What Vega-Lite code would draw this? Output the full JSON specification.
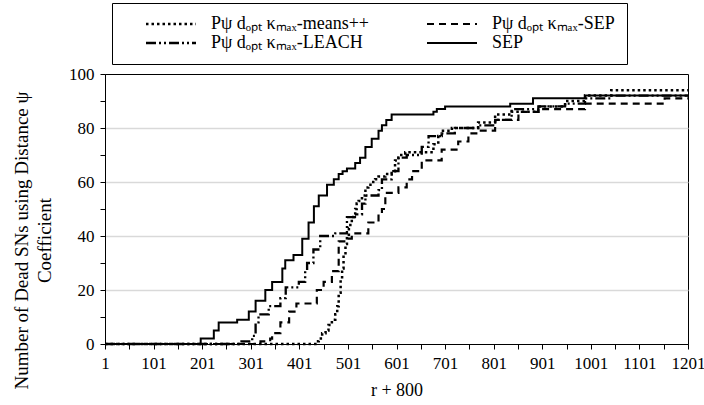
{
  "$schema": "https://vega.github.io/schema/vega-lite/v6.json",
  "width": 583,
  "height": 270,
  "autosize": "none",
  "padding": {"left": 105, "top": 74, "right": 16, "bottom": 61},
  "background": "white",
  "config": {
    "view": {"stroke": "black", "strokeWidth": 1},
    "font": "Liberation Serif"
  },
  "data": {"values": [
    {"s":"A","r":1,"d":0},{"s":"A","r":434,"d":1},{"s":"A","r":441,"d":2},{"s":"A","r":448,"d":4},{"s":"A","r":455,"d":5},{"s":"A","r":461,"d":7},{"s":"A","r":468,"d":9},{"s":"A","r":475,"d":11},{"s":"A","r":479,"d":14},{"s":"A","r":482,"d":19},{"s":"A","r":486,"d":24},{"s":"A","r":489,"d":28},{"s":"A","r":492,"d":33},{"s":"A","r":496,"d":37},{"s":"A","r":499,"d":40},{"s":"A","r":503,"d":43},{"s":"A","r":506,"d":45},{"s":"A","r":509,"d":47},{"s":"A","r":513,"d":48},{"s":"A","r":516,"d":50},{"s":"A","r":519,"d":52},{"s":"A","r":523,"d":53},{"s":"A","r":527,"d":54},{"s":"A","r":530,"d":55},{"s":"A","r":537,"d":58},{"s":"A","r":543,"d":59},{"s":"A","r":550,"d":60},{"s":"A","r":557,"d":61},{"s":"A","r":564,"d":62},{"s":"A","r":578,"d":63},{"s":"A","r":591,"d":64},{"s":"A","r":598,"d":68},{"s":"A","r":605,"d":70},{"s":"A","r":619,"d":71},{"s":"A","r":677,"d":74},{"s":"A","r":687,"d":77},{"s":"A","r":694,"d":79},{"s":"A","r":715,"d":80},{"s":"A","r":769,"d":82},{"s":"A","r":804,"d":85},{"s":"A","r":838,"d":86},{"s":"A","r":893,"d":88},{"s":"A","r":948,"d":90},{"s":"A","r":989,"d":92},{"s":"A","r":1043,"d":94},{"s":"A","r":1201,"d":94},
    {"s":"B","r":1,"d":0},{"s":"B","r":321,"d":1},{"s":"B","r":341,"d":2},{"s":"B","r":345,"d":4},{"s":"B","r":362,"d":8},{"s":"B","r":380,"d":12},{"s":"B","r":395,"d":15},{"s":"B","r":437,"d":20},{"s":"B","r":451,"d":23},{"s":"B","r":468,"d":27},{"s":"B","r":482,"d":38},{"s":"B","r":496,"d":39},{"s":"B","r":509,"d":41},{"s":"B","r":543,"d":45},{"s":"B","r":564,"d":48},{"s":"B","r":571,"d":50},{"s":"B","r":578,"d":56},{"s":"B","r":605,"d":58},{"s":"B","r":622,"d":61},{"s":"B","r":633,"d":64},{"s":"B","r":653,"d":68},{"s":"B","r":694,"d":72},{"s":"B","r":728,"d":75},{"s":"B","r":749,"d":78},{"s":"B","r":770,"d":79},{"s":"B","r":804,"d":83},{"s":"B","r":852,"d":86},{"s":"B","r":893,"d":87},{"s":"B","r":989,"d":89},{"s":"B","r":1153,"d":91},{"s":"B","r":1201,"d":91},
    {"s":"C","r":1,"d":0},{"s":"C","r":282,"d":1},{"s":"C","r":304,"d":3},{"s":"C","r":311,"d":8},{"s":"C","r":317,"d":11},{"s":"C","r":338,"d":14},{"s":"C","r":362,"d":17},{"s":"C","r":373,"d":21},{"s":"C","r":400,"d":23},{"s":"C","r":413,"d":27},{"s":"C","r":417,"d":30},{"s":"C","r":430,"d":35},{"s":"C","r":444,"d":40},{"s":"C","r":475,"d":41},{"s":"C","r":499,"d":47},{"s":"C","r":520,"d":48},{"s":"C","r":530,"d":52},{"s":"C","r":537,"d":55},{"s":"C","r":564,"d":57},{"s":"C","r":571,"d":61},{"s":"C","r":591,"d":64},{"s":"C","r":605,"d":69},{"s":"C","r":622,"d":70},{"s":"C","r":653,"d":73},{"s":"C","r":667,"d":77},{"s":"C","r":694,"d":78},{"s":"C","r":721,"d":80},{"s":"C","r":769,"d":81},{"s":"C","r":804,"d":83},{"s":"C","r":838,"d":87},{"s":"C","r":893,"d":88},{"s":"C","r":948,"d":89},{"s":"C","r":989,"d":91},{"s":"C","r":1043,"d":92},{"s":"C","r":1201,"d":92},
    {"s":"D","r":1,"d":0},{"s":"D","r":198,"d":2},{"s":"D","r":225,"d":5},{"s":"D","r":235,"d":8},{"s":"D","r":273,"d":9},{"s":"D","r":297,"d":12},{"s":"D","r":311,"d":16},{"s":"D","r":331,"d":20},{"s":"D","r":345,"d":23},{"s":"D","r":366,"d":28},{"s":"D","r":372,"d":31},{"s":"D","r":389,"d":33},{"s":"D","r":407,"d":39},{"s":"D","r":420,"d":45},{"s":"D","r":431,"d":51},{"s":"D","r":441,"d":55},{"s":"D","r":458,"d":59},{"s":"D","r":472,"d":61},{"s":"D","r":482,"d":63},{"s":"D","r":490,"d":64},{"s":"D","r":499,"d":65},{"s":"D","r":516,"d":67},{"s":"D","r":526,"d":69},{"s":"D","r":537,"d":73},{"s":"D","r":550,"d":76},{"s":"D","r":564,"d":79},{"s":"D","r":571,"d":81},{"s":"D","r":580,"d":83},{"s":"D","r":591,"d":85},{"s":"D","r":677,"d":86},{"s":"D","r":684,"d":87},{"s":"D","r":701,"d":88},{"s":"D","r":835,"d":89},{"s":"D","r":882,"d":91},{"s":"D","r":989,"d":92},{"s":"D","r":1201,"d":92}
  ]},
  "mark": {"type": "line", "interpolate": "step-after", "color": "black", "strokeCap": "butt"},
  "encoding": {
    "x": {
      "field": "r", "type": "quantitative",
      "scale": {"domain": [1, 1201], "nice": false, "zero": false},
      "axis": {
        "title": "r + 800", "titleFont": "Liberation Serif", "titleFontSize": 18, "titleFontWeight": "normal", "titleColor": "black", "titlePadding": 10,
        "values": [1,51,101,151,201,251,301,351,401,451,501,551,601,651,701,751,801,851,901,951,1001,1051,1101,1151,1201],
        "labelExpr": "(datum.value - 1) % 100 == 0 ? datum.label : ''",
        "format": "d",
        "labelFont": "Liberation Serif", "labelFontSize": 17, "labelColor": "black", "labelPadding": 6, "labelOverlap": false, "labelFlush": false,
        "domainColor": "black", "tickColor": "black", "tickSize": 5, "grid": false
      }
    },
    "y": {
      "field": "d", "type": "quantitative",
      "scale": {"domain": [0, 100], "nice": false},
      "axis": {
        "title": ["Number of Dead SNs using Distance ψ", "Coefficient"],
        "titleFont": "Liberation Serif", "titleFontSize": 19, "titleFontWeight": "normal", "titleColor": "black", "titlePadding": 14, "titleLineHeight": 23, "titleY": 166,
        "values": [0,10,20,30,40,50,60,70,80,90,100],
        "labelExpr": "datum.value % 20 == 0 ? datum.label : ''",
        "labelFont": "Liberation Serif", "labelFontSize": 17, "labelColor": "black", "labelPadding": 6,
        "domainColor": "black", "tickColor": "black", "tickSize": 5,
        "grid": true, "gridColor": "#d9d9d9", "gridWidth": 1.5,
        "gridOpacity": {"condition": {"test": "datum.value % 20 == 0 && datum.value > 0 && datum.value < 100", "value": 1}, "value": 0}
      }
    },
    "strokeDash": {
      "field": "s", "type": "nominal",
      "scale": {"domain": ["A", "C", "B", "D"], "range": [[2.5, 3], [10, 3, 2, 3, 2, 3], [7, 5], [1, 0]]},
      "legend": {
        "title": null, "orient": "none", "legendX": 7, "legendY": -71, "columns": 2, "gridAlign": "all",
        "labelExpr": "datum.value == 'A' ? 'Pψ dₒₚₜ κₘₐₓ-means++' : datum.value == 'B' ? 'Pψ dₒₚₜ κₘₐₓ-SEP' : datum.value == 'C' ? 'Pψ dₒₚₜ κₘₐₓ-LEACH' : 'SEP'",
        "labelFont": "Liberation Serif", "labelFontSize": 18, "labelColor": "black", "labelLimit": 400,
        "symbolType": "M2.6,0H12.6", "symbolSize": 100, "symbolStrokeColor": "black", "symbolStrokeWidth": 2, "symbolFillColor": "transparent",
        "strokeColor": "black", "padding": 12, "columnPadding": 36, "rowPadding": 1, "labelOffset": 69
      }
    },
    "strokeWidth": {
      "field": "s", "type": "nominal",
      "scale": {"domain": ["A", "C", "B", "D"], "range": [2.5, 2, 2, 1.2]},
      "legend": null
    }
  }
}
